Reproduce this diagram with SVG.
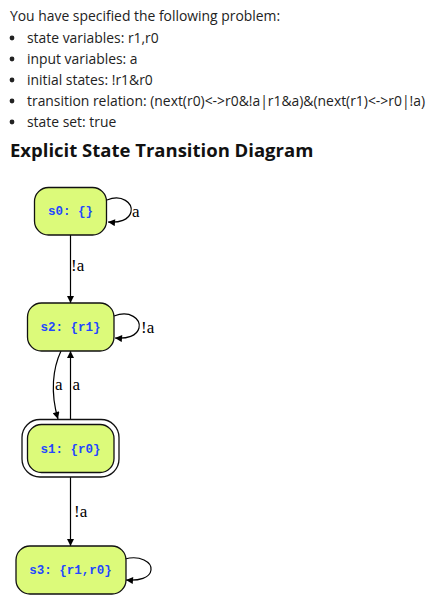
<svg xmlns="http://www.w3.org/2000/svg" width="433" height="602" viewBox="0 0 433 602">
<style>
.hdr{font-family:"Open Sans","Liberation Sans",sans-serif;font-size:13.9px;fill:#222}
.h2{font-family:"Open Sans","Liberation Sans",sans-serif;font-size:18.5px;font-weight:bold;fill:#111}
.node{fill:#dcfa7a;stroke:#111;stroke-width:1.3}
.ring{fill:#fff;stroke:#111;stroke-width:1.3}
.nl{font-family:"Liberation Mono","Courier New",monospace;font-size:12.5px;font-weight:bold;fill:#2347ff;text-anchor:middle}
.el{font-family:"Liberation Serif","Times New Roman",serif;font-size:17px;fill:#000}
.edge{fill:none;stroke:#000;stroke-width:1.2}
</style>
<defs>
<marker id="ah" viewBox="0 0 10 10" refX="10" refY="5" markerWidth="9" markerHeight="7" markerUnits="userSpaceOnUse" orient="auto">
<path d="M0,0 L10,5 L0,10 z" fill="#000"/>
</marker>
</defs>
<g id="header">
<text class="hdr" x="10" y="21">You have specified the following problem:</text>
<circle cx="12" cy="38" r="2.4" fill="#222"/><text class="hdr" x="27" y="42.5">state variables: r1,r0</text>
<circle cx="12" cy="59" r="2.4" fill="#222"/><text class="hdr" x="27" y="63.5">input variables: a</text>
<circle cx="12" cy="80" r="2.4" fill="#222"/><text class="hdr" x="27" y="84.5">initial states: !r1&amp;r0</text>
<circle cx="12" cy="101" r="2.4" fill="#222"/><text class="hdr" x="27" y="105.5">transition relation: (next(r0)&lt;-&gt;r0&amp;!a|r1&amp;a)&amp;(next(r1)&lt;-&gt;r0|!a)</text>
<circle cx="12" cy="122" r="2.4" fill="#222"/><text class="hdr" x="27" y="126.5">state set: true</text>
<text class="h2" x="10" y="157">Explicit State Transition Diagram</text>
</g>
<g id="edges">
<path class="edge" d="M107,200 C122,194 133,203 131,212 C129,220 119,223 108,222" marker-end="url(#ah)"/>
<text class="el" x="132" y="217">a</text>
<path class="edge" d="M70.5,235 L70.5,303" marker-end="url(#ah)"/>
<text class="el" x="71" y="271">!a</text>
<path class="edge" d="M114,316 C130,310 141,319 139,328 C137,336 127,339 115,338" marker-end="url(#ah)"/>
<text class="el" x="141" y="333">!a</text>
<path class="edge" d="M61,351 C53,368 50,392 58,419" marker-end="url(#ah)"/>
<text class="el" x="55" y="390">a</text>
<path class="edge" d="M70.5,419 L70.5,351" marker-end="url(#ah)"/>
<text class="el" x="72.5" y="390">a</text>
<path class="edge" d="M70.5,477 L70.5,546" marker-end="url(#ah)"/>
<text class="el" x="74" y="517">!a</text>
<path class="edge" d="M125,559 C140,555 152,562 151,570 C150,578 139,581 126,580" marker-end="url(#ah)"/>
</g>
<g id="s0">
<rect class="node" x="34.5" y="187.5" width="72" height="47.5" rx="14"/>
<text class="nl" x="70.5" y="215">s0: {}</text>
</g>
<g id="s2">
<rect class="node" x="27.5" y="303" width="86.5" height="48" rx="14"/>
<text class="nl" x="70.5" y="331">s2: {r1}</text>
</g>
<g id="s1">
<rect class="ring" x="22" y="419.5" width="97" height="57.5" rx="18"/>
<rect class="node" x="27.5" y="424.5" width="86.5" height="48" rx="14"/>
<text class="nl" x="70.5" y="452.5">s1: {r0}</text>
</g>
<g id="s3">
<rect class="node" x="16" y="546" width="110" height="48" rx="14"/>
<text class="nl" x="70.5" y="574">s3: {r1,r0}</text>
</g>
</svg>
